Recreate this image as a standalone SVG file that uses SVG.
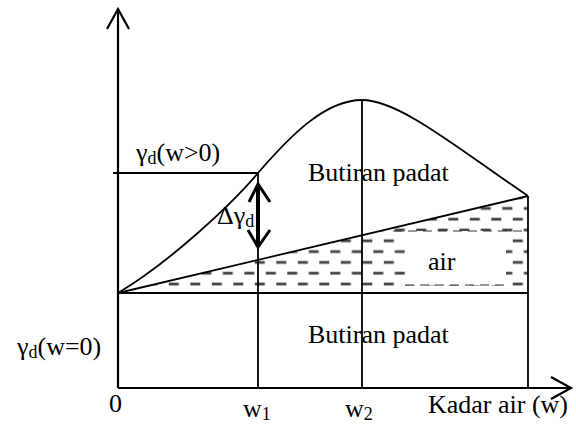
<svg xmlns="http://www.w3.org/2000/svg" width="576" height="425" viewBox="0 0 576 425">
<style>
.ln{fill:none;stroke:#000;stroke-width:1.8;stroke-linecap:butt}
.ax{fill:none;stroke:#000;stroke-width:2.2}
.tx{font-size:26px;fill:#000}
.sb{font-size:18px}
.dash{fill:none;stroke:#333;stroke-width:1;stroke-dasharray:9 6}
</style>
<defs>
<pattern id="hatch" patternUnits="userSpaceOnUse" x="276.3" y="279" width="21.5" height="21.6">
<rect x="0" y="3.6" width="10" height="2.8" fill="#444"/>
<rect x="11" y="14.4" width="10" height="2.8" fill="#444"/>
</pattern>
</defs>
<rect width="576" height="425" fill="#fff"/>
<g id="water-region">
<polygon points="118,293 528,196 528,293" fill="url(#hatch)"/>
<rect x="405" y="231" width="101" height="54" fill="#fff"/>
<line class="dash" x1="393" y1="231" x2="528" y2="231"/>
<line class="dash" x1="405" y1="285" x2="506" y2="285"/>
</g>
<g id="connectors">
<g id="axes">
<line class="ax" x1="118" y1="388" x2="118" y2="9"/>
<polyline class="ax" points="107,29 118,9 129,29"/>
<line class="ax" x1="118" y1="388" x2="571" y2="388"/>
<polyline class="ax" points="551,377 571,388 551,399"/>
</g>
<path class="ln" d="M118,293 C170,262 232,204 258,173 C290,136 325,100 362,100 C400,100 460,150 528,196"/>
<line class="ln" x1="118" y1="293" x2="528" y2="196"/>
<line class="ln" x1="118" y1="293" x2="528" y2="293"/>
<line class="ln" x1="113" y1="173" x2="258" y2="173"/>
<line class="ln" x1="258" y1="173" x2="258" y2="388"/>
<line class="ln" x1="362" y1="100" x2="362" y2="388"/>
<line class="ln" x1="528" y1="196" x2="528" y2="388"/>
<g id="delta-arrow">
<line x1="258" y1="186" x2="258" y2="245" stroke="#000" stroke-width="4"/>
<polyline points="249,202 258,184 270,202" fill="none" stroke="#000" stroke-width="3"/>
<polyline points="248,230 258,247 270,230" fill="none" stroke="#000" stroke-width="3"/>
</g>
</g>
<g id="labels" font-family="'Liberation Serif', 'Times New Roman', 'DejaVu Serif', serif">
<text class="tx" x="136" y="161">γ<tspan class="sb" dy="3">d</tspan><tspan dy="-3">(w&gt;0)</tspan></text>
<text class="tx" x="217" y="224">Δγ<tspan class="sb" dy="3">d</tspan></text>
<text class="tx" x="308" y="181">Butiran padat</text>
<text class="tx" x="428" y="270">air</text>
<text class="tx" x="308" y="343">Butiran padat</text>
<text class="tx" x="17" y="355">γ<tspan class="sb" dy="3">d</tspan><tspan dy="-3">(w=0)</tspan></text>
<text class="tx" x="109" y="412">0</text>
<text class="tx" x="243" y="417">w<tspan class="sb" dy="3">1</tspan></text>
<text class="tx" x="345" y="417">w<tspan class="sb" dy="3">2</tspan></text>
<text class="tx" x="428" y="413">Kadar air (w)</text>
</g>
</svg>
